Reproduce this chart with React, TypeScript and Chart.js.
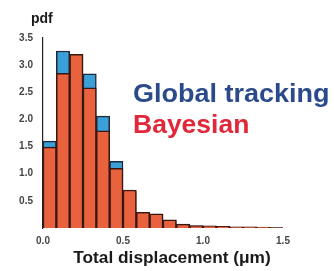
import React, { useEffect, useRef } from "react";
import { Chart, registerables } from "chart.js";

Chart.register(...registerables);

// Bin left edges (µm), width 1/12 µm
const binStarts = [0, 0.0833, 0.1667, 0.25, 0.3333, 0.4167, 0.5, 0.5833, 0.6667, 0.75, 0.8333, 0.9167, 1.0, 1.0833, 1.1667, 1.25, 1.3333, 1.4167];
const binWidth = 0.0833;

const bayesian = [1.49, 2.85, 3.2, 2.58, 1.79, 1.1, 0.7, 0.29, 0.26, 0.15, 0.07, 0.045, 0.04, 0.03, 0.02, 0.02, 0.015, 0.01];
const globalTracking = [1.6, 3.26, 3.19, 2.84, 2.06, 1.23, 0.67, 0.28, 0.25, 0.14, 0.065, 0.04, 0.035, 0.025, 0.018, 0.018, 0.012, 0.008];

const seriesLabels = ["Bayesian", "Global tracking"];
const textColors = ["#e0283a", "#2b4a8a"];
const barColors = ["#e8623e", "#3b9fd8"];

const xTicks = [0, 0.5, 1.0, 1.5];
const yTicks = [0, 0.5, 1.0, 1.5, 2.0, 2.5, 3.0, 3.5];

const xTitle = "Total displacement (\u03bcm)";
const yTitle = "pdf";

const FONT = "'Liberation Sans', Arial, sans-serif";

function drawText(ctx: CanvasRenderingContext2D, text: string, x: number, y: number, size: number, color: string, stretch: number, align: "left" | "center") {
  ctx.save();
  ctx.font = `bold ${size}px ${FONT}`;
  ctx.fillStyle = color;
  ctx.textBaseline = "alphabetic";
  ctx.textAlign = "left";
  const w = ctx.measureText(text).width * stretch;
  const x0 = align === "center" ? x - w / 2 : x;
  ctx.translate(x0, y);
  ctx.scale(stretch, 1);
  ctx.fillText(text, 0, 0);
  ctx.restore();
}

const textPlugin = {
  id: "texts",
  afterDraw(chart: any) {
    const ctx = chart.ctx as CanvasRenderingContext2D;
    drawText(ctx, yTitle, 31, 23, 14, "#1a1a1a", 1.0, "left");
    drawText(ctx, xTitle, 172, 263, 16, "#1a1a1a", 1.08, "center");
    drawText(ctx, seriesLabels[1], 133, 102, 25, textColors[1], 1.08, "left");
    drawText(ctx, seriesLabels[0], 133, 133, 25, textColors[0], 1.06, "left");
  },
};

export default function App() {
  const ref = useRef<HTMLCanvasElement>(null);
  useEffect(() => {
    document.body.style.margin = "0";
    const centers = binStarts.map((s) => s + binWidth / 2);
    const chart = new Chart(ref.current!, {
      type: "bar",
      data: {
        datasets: [
          {
            label: seriesLabels[0],
            data: centers.map((x, i) => ({ x, y: bayesian[i] })),
            backgroundColor: barColors[0],
            borderColor: "#3a1610",
            borderWidth: 1.5,
            grouped: false,
            barPercentage: 1,
            categoryPercentage: 1,
          },
          {
            label: seriesLabels[1],
            data: centers.map((x, i) => ({ x, y: globalTracking[i] })),
            backgroundColor: barColors[1],
            borderColor: "#1d2a3a",
            borderWidth: 1.5,
            grouped: false,
            barPercentage: 1,
            categoryPercentage: 1,
          },
        ],
      },
      options: {
        animation: false,
        responsive: false,
        devicePixelRatio: 1,
        layout: { padding: { left: 0, top: 38, right: 51, bottom: 0 } },
        plugins: { legend: { display: false }, tooltip: { enabled: false } },
        scales: {
          x: {
            type: "linear",
            offset: false,
            min: 0,
            max: 1.5,
            afterBuildTicks: (scale: any) => {
              scale.ticks = xTicks.map((v) => ({ value: v }));
            },
            afterFit: (scale: any) => {
              scale.height = 43;
            },
            grid: { display: false, offset: false, drawTicks: false },
            border: { display: false },
            ticks: {
              padding: 7,
              color: "#444",
              font: { family: FONT, size: 10, weight: "bold" },
              callback: (v: any) => Number(v).toFixed(1),
              maxRotation: 0,
            },
          },
          y: {
            min: 0,
            max: 3.5,
            afterBuildTicks: (scale: any) => {
              scale.ticks = yTicks.map((v) => ({ value: v }));
            },
            afterFit: (scale: any) => {
              scale.width = 43;
            },
            grid: { display: false, drawTicks: false },
            border: { display: true, color: "#222", width: 1.2 },
            ticks: {
              padding: 10,
              color: "#444",
              font: { family: FONT, size: 10, weight: "bold" },
              callback: (v: any) => (Number(v) === 0 ? "" : Number(v).toFixed(1)),
            },
          },
        },
      } as any,
      plugins: [textPlugin],
    });
    return () => chart.destroy();
  }, []);
  return <canvas ref={ref} width={334} height={271} style={{ display: "block" }} />;
}
